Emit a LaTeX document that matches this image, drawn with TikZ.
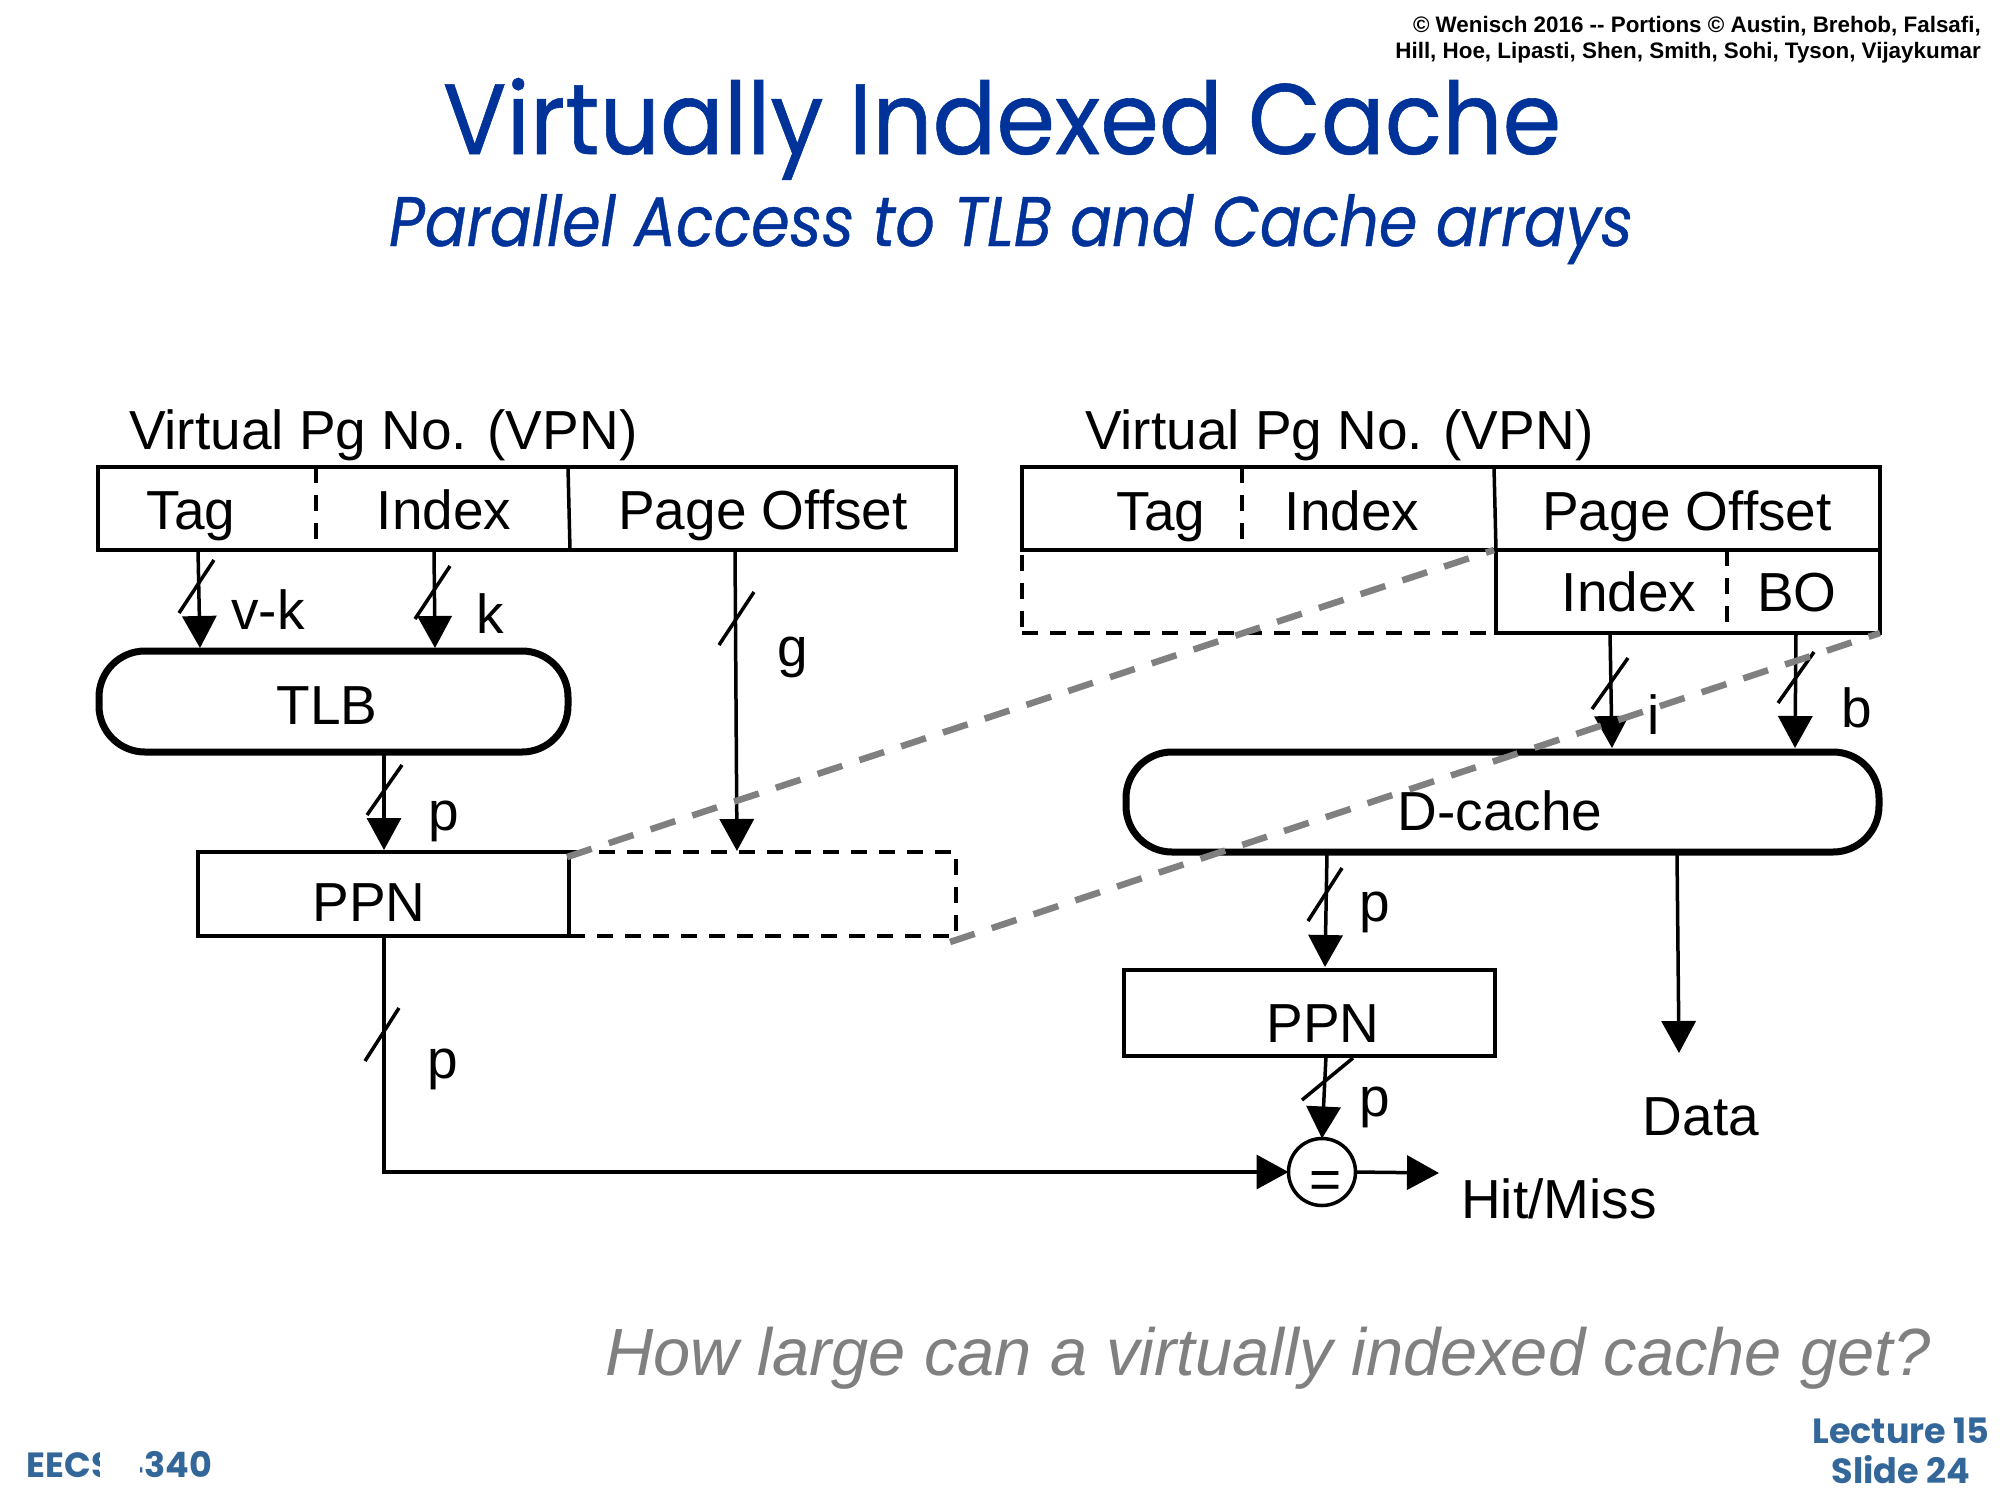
\documentclass[tikz,border=0pt]{standalone}
\usepackage{fontspec}
\setmainfont{Liberation Sans}
\newfontfamily\titlefont{Poppins}
\newfontfamily\headfont[FakeBold=0.6]{Poppins}
\usetikzlibrary{arrows.meta,calc}
\definecolor{titleblue}{HTML}{003399}
\definecolor{footblue}{HTML}{336699}
\definecolor{guide}{HTML}{808080}
\newcommand{\slashmark}[5]{\coordinate (#1a) at (#2,#3);\coordinate (#1b) at (#4,#5);\draw[slashline] (#1a) -- (#1b);}
\tikzset{
  cell/.style={draw=black,line width=4pt,inner sep=0pt,outer sep=0pt,anchor=north west,fill=white},
  dashcell/.style={draw=black,line width=4pt,inner sep=0pt,outer sep=0pt,anchor=north west,dash pattern=on 16pt off 12pt},
  store/.style={draw=black,line width=7pt,inner sep=0pt,outer sep=0pt,anchor=north west,rounded corners=46pt,fill=white},
  lab/.style={inner sep=0pt,outer sep=0pt,anchor=base,font=\fontsize{55}{55}\selectfont},
  wire/.style={line width=3.5pt,-{Triangle[length=32pt,width=34pt]}},
  slashline/.style={line width=3.5pt},
  split/.style={line width=3.5pt,dash pattern=on 16pt off 12pt},
  solidsplit/.style={line width=3.5pt},
  guideline/.style={draw=guide,line width=6.5pt,dash pattern=on 26pt off 18pt},
  foot/.style={inner sep=0pt,outer sep=0pt,text=footblue,font=\titlefont\fontsize{35}{35}\selectfont\bfseries}
}
\begin{document}
\begin{tikzpicture}[x=1pt,y=-1pt]
\useasboundingbox[fill=white] (0,0) rectangle (2000,1500);
% header
\node[inner sep=0pt,anchor=base east,align=right,font=\bfseries\fontsize{22.4}{26}\selectfont] (credit1) at (1981,32) {© Wenisch 2016 -{}- Portions © Austin, Brehob, Falsafi,};
\node[inner sep=0pt,anchor=base east,align=right,font=\bfseries\fontsize{22.4}{26}\selectfont] (credit2) at (1981,58) {Hill, Hoe, Lipasti, Shen, Smith, Sohi, Tyson, Vijaykumar};
\node[inner sep=0pt,anchor=base,text=titleblue,font=\headfont\fontsize{100}{100}\selectfont] (title) at (1002,154) {\scalebox{0.945}[1]{Virtually Indexed Cache}};
\node[inner sep=0pt,anchor=base,text=titleblue,font=\headfont\itshape\fontsize{70}{70}\selectfont] (subtitle) at (1011,246) {\scalebox{0.885}[1]{Parallel Access to TLB and Cache arrays}};
% left side
\node[lab,anchor=base west] (vpnL) at (129,449) {Virtual Pg No. (VPN)};
\node[cell,minimum width=858pt,minimum height=83pt] (boxL) at (98,467) {};
\draw[split] ([xshift=218pt]boxL.north west) -- ([xshift=218pt]boxL.south west);
\draw[solidsplit] ([xshift=470pt]boxL.north west) -- ([xshift=472pt]boxL.south west);
\node[lab] (tagL) at (191,529) {Tag};
\node[lab] (indexL) at (444,529) {Index};
\node[lab] (offsetL) at (763,529) {Page Offset};
\node[store,minimum width=469pt,minimum height=101pt] (tlb) at (99,651) {};
\node[lab] (tlbtext) at (327,724) {TLB};
\node[dashcell,minimum width=387pt,minimum height=84pt] (ppnext) at (569,852) {};
\node[cell,minimum width=371pt,minimum height=84pt] (ppnL) at (198,852) {};
\node[lab] (ppnLtext) at (369,921) {PPN};
% right side
\node[lab,anchor=base west] (vpnR) at (1085,449) {Virtual Pg No. (VPN)};
\node[cell,minimum width=858pt,minimum height=83pt] (boxR) at (1022,467) {};
\draw[split] ([xshift=220pt]boxR.north west) -- ([xshift=220pt]boxR.south west);
\draw[solidsplit] ([xshift=472pt]boxR.north west) -- ([xshift=474pt]boxR.south west);
\node[lab] (tagR) at (1161,530) {Tag};
\node[lab] (indexR) at (1352,530) {Index};
\node[lab] (offsetR) at (1687,530) {Page Offset};
\node[dashcell,minimum width=474pt,minimum height=83pt] (dashR) at (1022,550) {};
\node[cell,minimum width=384pt,minimum height=83pt] (lowR) at (1496,550) {};
\draw[split] ([xshift=231pt]lowR.north west) -- ([xshift=231pt]lowR.south west);
\node[lab] (indexlow) at (1629,611) {Index};
\node[lab] (bo) at (1797,611) {BO};
\node[store,minimum width=753pt,minimum height=100pt] (dcache) at (1126,752) {};
\node[lab] (dcachetext) at (1500,830) {D-cache};
\node[cell,minimum width=371pt,minimum height=86pt] (ppnR) at (1124,970) {};
\node[lab] (ppnRtext) at (1323,1042) {PPN};
\node[draw=black,line width=3.5pt,circle,inner sep=0pt,outer sep=0pt,minimum size=67pt,fill=white] (cmp) at (1322,1172) {};
\node[lab] (eq) at (1326,1198) {=};
\coordinate (dataend) at (1679,1053);
\coordinate (hitend) at (1439,1173);
% connectors
\draw[wire] ([xshift=100pt]boxL.south west) -- ([xshift=101pt,yshift=3pt]tlb.north west);
\draw[wire] ([xshift=336pt]boxL.south west) -- ([xshift=336pt,yshift=3pt]tlb.north west);
\draw[wire] ([xshift=637pt]boxL.south west) -- ([xshift=168pt,yshift=1pt]ppnext.north west);
\draw[wire] ([xshift=285pt]tlb.south west) -- ([xshift=186pt,yshift=2pt]ppnL.north west);
\draw[wire] ([xshift=186pt]ppnL.south west) |- (cmp.west);
\draw[wire] ([xshift=114pt]lowR.south west) -- ([xshift=486pt,yshift=4pt]dcache.north west);
\draw[wire] ([xshift=300pt]lowR.south west) -- ([xshift=669pt,yshift=4pt]dcache.north west);
\draw[wire] ([xshift=201pt,yshift=-1pt]dcache.south west) -- ([xshift=201pt,yshift=3pt]ppnR.north west);
\draw[wire] ([xshift=551pt,yshift=-1pt]dcache.south west) -- (dataend);
\draw[wire] ([xshift=202pt]ppnR.south west) -- (cmp.north);
\draw[wire] (cmp.east) -- (hitend);
% bus marks
\slashmark{s1}{214}{560}{179}{613}
\slashmark{s2}{450}{566}{415}{619}
\slashmark{s3}{754}{592}{719}{645}
\slashmark{s4}{402}{765}{367}{815}
\slashmark{s5}{399}{1008}{365}{1061}
\slashmark{s6}{1628}{658}{1592}{709}
\slashmark{s7}{1814}{652}{1778}{703}
\slashmark{s8}{1342}{868}{1308}{921}
\slashmark{s9}{1353}{1058}{1302}{1100}
% wire labels
\node[lab] (lvk) at (268,629) {v-k};
\node[lab] (lk) at (490,633) {k};
\node[lab] (lg) at (793,666) {g};
\node[lab] (lp1) at (444,830) {p};
\node[lab] (lp2) at (443,1078) {p};
\node[lab] (li) at (1654,734) {i};
\node[lab] (lb) at (1857,727) {b};
\node[lab] (lp3) at (1375,921) {p};
\node[lab] (lp4) at (1375,1116) {p};
\node[lab] (ldata) at (1701,1135) {Data};
\node[lab] (lhit) at (1559,1218) {Hit/Miss};
% address mapping guides
\draw[guideline] ([xshift=-2pt,yshift=-5pt]ppnL.north east) -- ([xshift=-2pt]dashR.north east);
\draw[guideline] ([xshift=-6pt,yshift=-6pt]ppnext.south east) -- (lowR.south east);
% question and footer
\node[inner sep=0pt,anchor=base,text=guide,font=\itshape\fontsize{66.8}{66.8}\selectfont] (question) at (1268,1375) {How large can a virtually indexed cache get?};
\node[foot,anchor=base west] (course) at (27,1477) {EECS 4340};
\fill[white] (100,1430) rectangle (140,1490);
\node[foot,anchor=base] (lecture) at (1901,1443) {Lecture 15};
\node[foot,anchor=base] (slide) at (1901,1483) {Slide 24};
\end{tikzpicture}
\end{document}
